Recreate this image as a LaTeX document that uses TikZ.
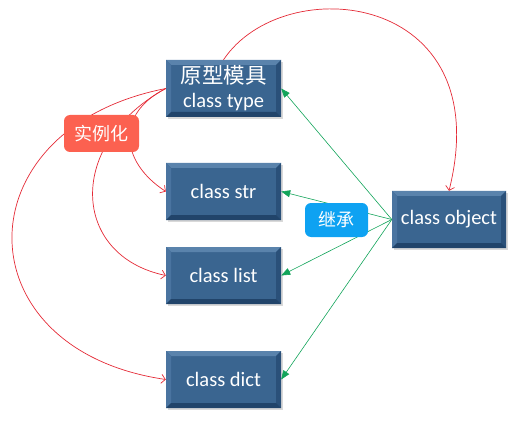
\documentclass[tikz,border=0pt]{standalone}
\usepackage{fontspec}
\setmainfont{Carlito}
\newfontfamily\cjk{Noto Sans CJK SC}
\usetikzlibrary{calc,shadows,arrows.meta}
\definecolor{boxface}{HTML}{3A6590}
\definecolor{boxtop}{HTML}{5A83AC}
\definecolor{boxleft}{HTML}{4A74A0}
\definecolor{boxright}{HTML}{2A5079}
\definecolor{boxbottom}{HTML}{21446A}
\definecolor{instred}{HTML}{E42A36}
\definecolor{inhgreen}{HTML}{12A45A}
\definecolor{tomatolabel}{HTML}{FC6150}
\definecolor{skylabel}{HTML}{0EA2F2}
\tikzset{
  /tikz/.cd,
  classbox/.style={drop shadow={opacity=.3,shadow xshift=1.5pt,shadow yshift=-2pt},
    fill=boxface,text=white,font=\fontsize{20.5}{24}\selectfont,
    minimum width=115pt,minimum height=57pt,inner sep=0pt,align=center,
    path picture={
      \fill[boxtop] (path picture bounding box.north west) -- (path picture bounding box.north east)
        -- ($(path picture bounding box.north east)+(-5pt,-5pt)$) -- ($(path picture bounding box.north west)+(5pt,-5pt)$) -- cycle;
      \fill[boxleft] (path picture bounding box.north west) -- (path picture bounding box.south west)
        -- ($(path picture bounding box.south west)+(5pt,5pt)$) -- ($(path picture bounding box.north west)+(5pt,-5pt)$) -- cycle;
      \fill[boxright] (path picture bounding box.north east) -- (path picture bounding box.south east)
        -- ($(path picture bounding box.south east)+(-5pt,5pt)$) -- ($(path picture bounding box.north east)+(-5pt,-5pt)$) -- cycle;
      \fill[boxbottom] (path picture bounding box.south west) -- (path picture bounding box.south east)
        -- ($(path picture bounding box.south east)+(-5pt,5pt)$) -- ($(path picture bounding box.south west)+(5pt,5pt)$) -- cycle;
    }}
}

\begin{document}
\begin{tikzpicture}[x=1pt,y=-1pt,
                    inst/.style={draw=instred,line width=.7pt,-{Straight Barb[length=4pt,width=9pt]}},
                    inh/.style={draw=inhgreen,line width=.6pt,-{Triangle[length=9pt,width=7pt]}},
                    tag/.style={rounded corners=6pt,text=white,font=\cjk\fontsize{18}{20}\selectfont,inner sep=0pt}]
      \useasboundingbox (0,0) rectangle (519,422);

      \node[classbox] (type) at (223.5,88.5) {{\cjk\fontsize{21.5}{24}\selectfont 原型模具}\\class type};
      \node[classbox] (str) at (223.5,191.5) {class str};
      \node[classbox] (list) at (223.5,275.5) {class list};
      \node[classbox] (dict) at (223.5,379.5) {class dict};
      \node[classbox,minimum width=114pt] (object) at (449,219.5) {class object};

      \draw[inst] (type.north) .. controls +(60,-90) and +(50,-200) .. (object.north);
      \draw[inst] (type.west) .. controls +(-50,25) and +(-46,-30) .. (str.west);
      \draw[inst] (type.west) .. controls +(-100,55) and +(-95,-20) .. (list.west);
      \draw[inst] (type.west) .. controls +(-205,40) and +(-205,-30) .. (dict.west);

      \draw[inh] (object.west) -- (type.east);
      \draw[inh] (object.west) -- (str.east);
      \draw[inh] (object.west) -- (list.east);
      \draw[inh] (object.west) -- (dict.east);

      \node[tag,fill=tomatolabel,minimum width=75pt,minimum height=37pt] (instlabel) at (101.5,133.5) {实例化};
      \node[tag,fill=skylabel,minimum width=63pt,minimum height=34pt] (inhlabel) at (336.5,220) {继承};
    \end{tikzpicture}
\end{document}
